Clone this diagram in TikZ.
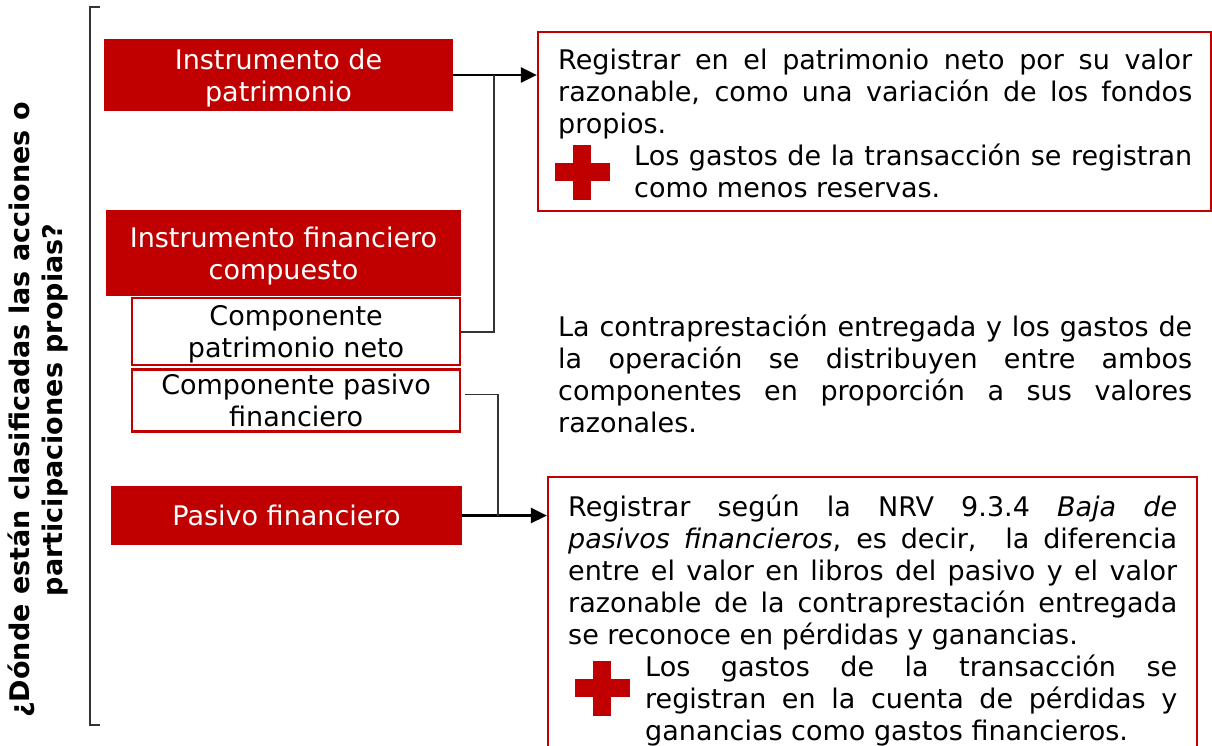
\documentclass[tikz,border=0pt]{standalone}
\usepackage{fontspec}
\setmainfont{DejaVu Sans}
\definecolor{rojo}{RGB}{192,0,0}
\usepackage{tikz}
\usetikzlibrary{arrows.meta, positioning}
\hyphenpenalty=10000

\begin{document}
\begin{tikzpicture}[x=1pt, y=-1pt, node distance=0pt, inner sep=0pt,
  redbox/.style={rectangle, fill=rojo, text=white, align=center, text depth=0pt, font=\fontsize{27}{32}\selectfont},
  subbox/.style={rectangle, draw=rojo, line width=2.2pt, fill=white, align=center, text depth=0pt, minimum width=328pt, font=\fontsize{27}{32}\selectfont},
  infobox/.style={rectangle, draw=rojo, line width=2.2pt},
  body/.style={anchor=north west, text width=#1, align=justify, font=\fontsize{27}{32}\selectfont},
  title/.style={rotate=90, align=center, font=\bfseries\fontsize{27}{33}\selectfont},
  link/.style={draw=black!80, line width=1.4pt},
  flow/.style={-{Triangle[length=16pt,width=15pt]}, line width=2.8pt},
  plus/.style={fill=rojo}]
  \useasboundingbox (0,0) rectangle (1212,745);
  % question and bracket
  \node[title] (Q) at (38,410) {¿Dónde están clasificadas las acciones o\\participaciones propias?};
  \draw[link] (100,7) -- (90,7) -- (90,725) -- (100,725);
  % left column
  \node[redbox, minimum width=349pt, minimum height=72pt] (IP)  at (278.5,75)  {Instrumento de\\patrimonio};
  \node[redbox, minimum width=355pt, minimum height=86pt] (IFC) at (283.5,253) {Instrumento financiero\\compuesto};
  \node[subbox, minimum height=67pt, below=1pt of IFC.south east, anchor=north east] (CPN) {Componente\\patrimonio neto};
  \node[subbox, minimum height=62pt, below=2pt of CPN.south east, anchor=north east] (CPF) {Componente pasivo\\financiero};
  \node[redbox, minimum width=351pt, minimum height=59pt] (PF)  at (286.5,515.5) {Pasivo financiero};
  % right column
  \node[infobox, minimum width=673pt, minimum height=179pt] (R1) at (874.5,121.5) {};
  \node[infobox, minimum width=649pt, minimum height=283pt] (R2) at (872.5,618.5) {};
  \node[body=634pt] (T1) at (558,49) {Registrar en el patrimonio neto por su valor\linebreak razonable, como una variación de los fondos\linebreak propios.};
  \node[body=558pt] (T1b) at (634,144) {Los gastos de la transacción se registran\linebreak como menos reservas.};
  \node[body=634pt] (T2) at (558,315) {La contraprestación entregada y los gastos de\linebreak la operación se distribuyen entre ambos\linebreak componentes en proporción a sus valores\linebreak razonales.};
  \node[body=609pt] (T3) at (568,495) {Registrar según la NRV 9.3.4 \textit{Baja de}\linebreak \textit{pasivos financieros}, es decir,~ la diferencia\linebreak entre el valor en libros del pasivo y el valor\linebreak razonable de la contraprestación entregada\linebreak se reconoce en pérdidas y ganancias.};
  \node[body=532pt] (T3b) at (645,655) {Los gastos de la transacción se\linebreak registran en la cuenta de pérdidas y\linebreak ganancias como gastos financieros.};
  % red crosses
  \coordinate (C1) at (582,172);
  \coordinate (C2) at (602,688);
  \foreach \c in {C1,C2} {
    \fill[plus] ([shift={(-27.5,-9)}]\c) rectangle ([shift={(27.5,9)}]\c);
    \fill[plus] ([shift={(-9,-27.5)}]\c) rectangle ([shift={(9,27.5)}]\c);
  }
  % connectors
  \coordinate (J1) at (494,75);
  \coordinate (J2) at (498,516);
  \draw[flow] (IP.east) -- (IP.east -| R1.west);
  \draw[link] (CPN.east) -| (J1);
  \draw[flow] (PF.east) -- (PF.east -| R2.west);
  \draw[link] ([xshift=4pt,yshift=6pt]CPF.east) -| (J2);
\end{tikzpicture}
\end{document}
